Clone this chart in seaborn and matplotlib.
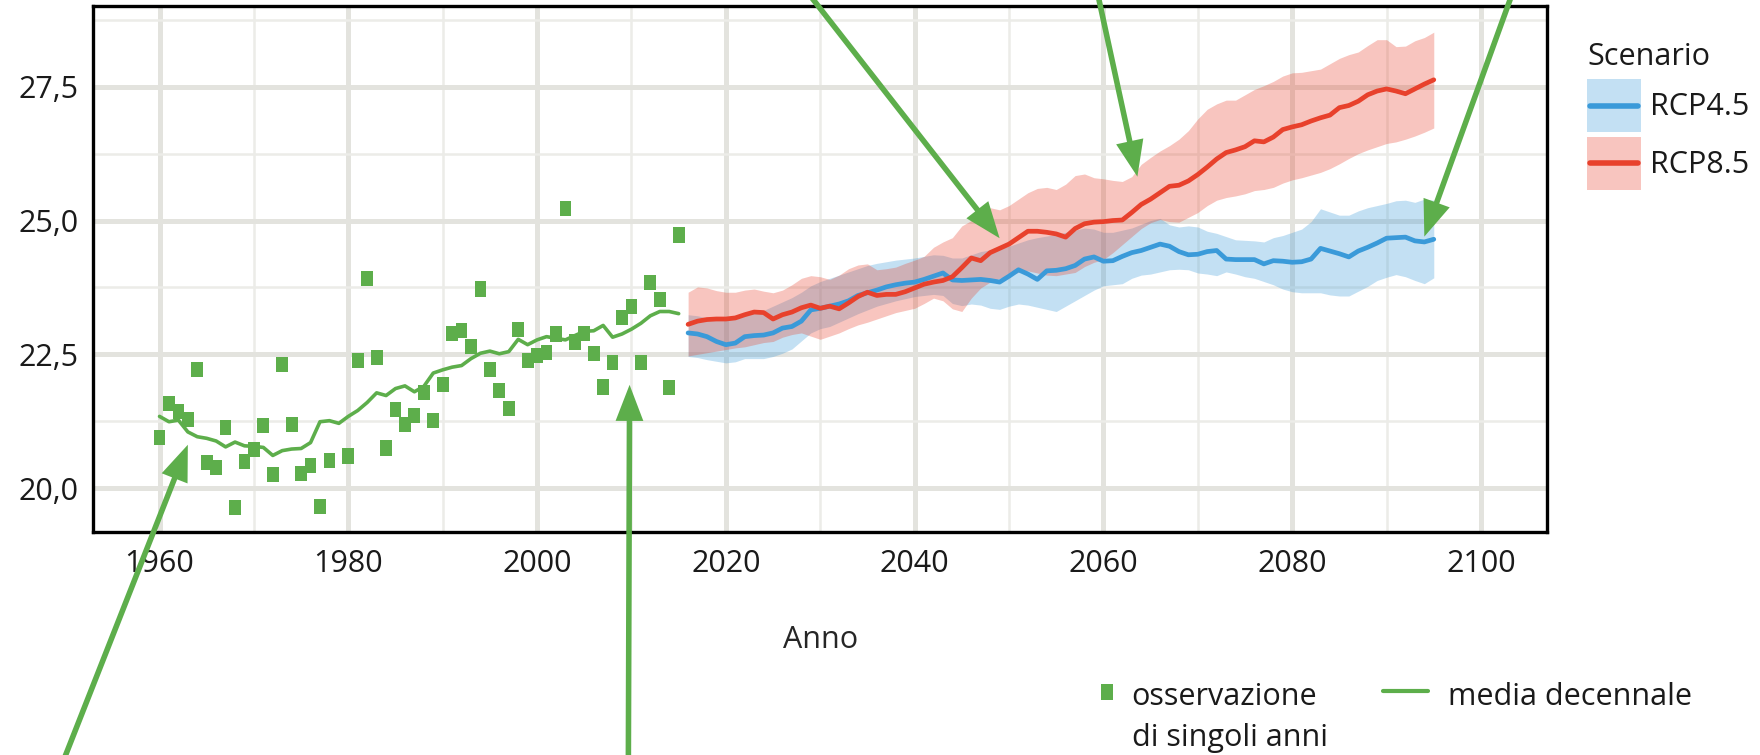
import numpy as np
import pandas as pd
import matplotlib
matplotlib.use("Agg")
import matplotlib.pyplot as plt
import seaborn as sns
from matplotlib.lines import Line2D
from matplotlib.patches import Patch
from matplotlib.markers import MarkerStyle
from matplotlib.ticker import MultipleLocator, FuncFormatter
from matplotlib.legend_handler import HandlerTuple, HandlerLine2D

# ---------------- data ----------------
obs_years = list(range(1960, 1979)) + list(range(1980, 2016))
obs_values = [20.94, 21.58, 21.43, 21.29, 22.22, 20.47, 20.38, 21.13, 19.64, 20.49,
              20.72, 21.17, 20.25, 22.31, 21.18, 20.27, 20.42, 19.65, 20.52,
              20.60, 22.39, 23.92, 22.44, 20.75, 21.47, 21.19, 21.36, 21.79, 21.26,
              21.93, 22.89, 22.94, 22.64, 23.72, 22.22, 21.82, 21.48, 22.97, 22.39,
              22.47, 22.53, 22.88, 25.22, 22.73, 22.89, 22.51, 21.89, 22.35, 23.18,
              23.40, 22.35, 23.85, 23.52, 21.88, 24.73]

dec_years = list(range(1960, 2016))
dec_values = [21.34, 21.24, 21.27, 21.05, 20.96, 20.93, 20.88, 20.77, 20.86, 20.79,
              20.78, 20.76, 20.61, 20.70, 20.73, 20.74, 20.85, 21.24, 21.26, 21.21,
              21.34, 21.45, 21.60, 21.78, 21.73, 21.86, 21.91, 21.80, 21.90, 22.15,
              22.21, 22.26, 22.29, 22.42, 22.52, 22.56, 22.51, 22.55, 22.78, 22.68,
              22.77, 22.83, 22.80, 22.77, 22.85, 22.93, 22.94, 23.04, 22.82, 22.88,
              22.97, 23.08, 23.22, 23.30, 23.30, 23.26]

scen_years = list(range(2016, 2096))

rcp85_mean = [23.06, 23.12, 23.15, 23.16, 23.16, 23.18, 23.24, 23.29, 23.28, 23.16,
              23.24, 23.29, 23.37, 23.42, 23.36, 23.40, 23.35, 23.46, 23.58, 23.66,
              23.60, 23.62, 23.62, 23.67, 23.74, 23.81, 23.85, 23.88, 23.95, 24.12,
              24.30, 24.25, 24.40, 24.48, 24.56, 24.68, 24.80, 24.80, 24.78, 24.75,
              24.69, 24.85, 24.94, 24.97, 24.98, 25.00, 25.01, 25.15, 25.30, 25.40,
              25.52, 25.64, 25.66, 25.74, 25.86, 26.00, 26.15, 26.27, 26.32, 26.38,
              26.49, 26.47, 26.56, 26.70, 26.75, 26.79, 26.86, 26.92, 26.97, 27.11,
              27.15, 27.23, 27.35, 27.42, 27.46, 27.42, 27.37, 27.46, 27.55, 27.63]
rcp85_high = [23.66, 23.76, 23.74, 23.69, 23.66, 23.66, 23.70, 23.72, 23.68, 23.65,
              23.70, 23.80, 23.92, 23.97, 23.95, 23.90, 23.98, 24.10, 24.17, 24.19,
              24.08, 24.10, 24.13, 24.20, 24.26, 24.33, 24.50, 24.60, 24.68, 24.90,
              25.00, 25.10, 25.24, 25.20, 25.28, 25.40, 25.52, 25.60, 25.62, 25.58,
              25.68, 25.84, 25.87, 25.80, 25.78, 25.75, 25.73, 25.82, 26.05, 26.18,
              26.30, 26.40, 26.52, 26.68, 26.90, 27.08, 27.18, 27.25, 27.25, 27.35,
              27.45, 27.52, 27.60, 27.70, 27.76, 27.77, 27.80, 27.83, 27.93, 28.03,
              28.10, 28.15, 28.27, 28.38, 28.38, 28.25, 28.26, 28.36, 28.42, 28.52]
rcp85_low = [22.47, 22.50, 22.53, 22.56, 22.59, 22.62, 22.64, 22.68, 22.72, 22.74,
             22.82, 22.87, 22.90, 22.84, 22.78, 22.84, 22.90, 22.98, 23.05, 23.10,
             23.16, 23.22, 23.28, 23.32, 23.36, 23.45, 23.55, 23.50, 23.35, 23.30,
             23.55, 23.74, 23.85, 23.92, 23.98, 24.03, 24.06, 24.02, 23.98, 23.97,
             24.00, 24.03, 24.14, 24.22, 24.27, 24.40, 24.55, 24.70, 24.85, 24.96,
             25.02, 24.98, 24.97, 25.06, 25.15, 25.28, 25.38, 25.43, 25.46, 25.50,
             25.56, 25.58, 25.62, 25.70, 25.76, 25.80, 25.85, 25.90, 25.97, 26.06,
             26.16, 26.25, 26.32, 26.38, 26.44, 26.47, 26.52, 26.58, 26.65, 26.73]

rcp45_mean = [22.90, 22.88, 22.83, 22.74, 22.68, 22.71, 22.83, 22.85, 22.86, 22.90,
              22.99, 23.02, 23.12, 23.33, 23.36, 23.40, 23.44, 23.50, 23.60, 23.65,
              23.70, 23.76, 23.80, 23.83, 23.85, 23.90, 23.96, 24.02, 23.89, 23.88,
              23.89, 23.90, 23.88, 23.85, 23.96, 24.08, 24.00, 23.90, 24.06, 24.07,
              24.10, 24.16, 24.28, 24.32, 24.24, 24.25, 24.33, 24.40, 24.44, 24.50,
              24.56, 24.52, 24.42, 24.36, 24.37, 24.42, 24.44, 24.28, 24.27, 24.27,
              24.27, 24.19, 24.25, 24.24, 24.22, 24.23, 24.28, 24.48, 24.43, 24.38,
              24.32, 24.43, 24.50, 24.58, 24.67, 24.68, 24.69, 24.62, 24.60, 24.65]
rcp45_high = [23.24, 23.22, 23.18, 23.14, 23.15, 23.20, 23.25, 23.28, 23.32, 23.40,
              23.48, 23.56, 23.66, 23.78, 23.86, 23.92, 23.98, 24.04, 24.10, 24.16,
              24.20, 24.23, 24.26, 24.28, 24.30, 24.33, 24.36, 24.35, 24.30, 24.30,
              24.36, 24.42, 24.45, 24.48, 24.52, 24.58, 24.64, 24.68, 24.71, 24.74,
              24.78, 24.82, 24.86, 24.84, 24.78, 24.78, 24.82, 24.86, 24.93, 25.00,
              25.04, 24.92, 24.88, 24.90, 24.88, 24.80, 24.76, 24.70, 24.64, 24.63,
              24.62, 24.60, 24.68, 24.72, 24.78, 24.84, 24.98, 25.22, 25.16, 25.10,
              25.10, 25.18, 25.24, 25.28, 25.32, 25.37, 25.38, 25.34, 25.40, 25.38]
rcp45_low = [22.46, 22.44, 22.40, 22.37, 22.34, 22.36, 22.42, 22.42, 22.42, 22.46,
             22.52, 22.60, 22.75, 22.90, 22.98, 23.02, 23.10, 23.18, 23.26, 23.33,
             23.40, 23.45, 23.50, 23.54, 23.58, 23.60, 23.62, 23.60, 23.45, 23.41,
             23.44, 23.42, 23.36, 23.34, 23.40, 23.44, 23.42, 23.38, 23.34, 23.30,
             23.40, 23.50, 23.60, 23.70, 23.78, 23.80, 23.82, 23.92, 23.98, 24.00,
             24.04, 24.08, 24.09, 24.08, 24.02, 24.00, 23.97, 24.04, 24.00, 23.95,
             23.92, 23.86, 23.80, 23.72, 23.67, 23.65, 23.65, 23.65, 23.61, 23.59,
             23.59, 23.68, 23.77, 23.88, 23.94, 23.99, 23.95, 23.88, 23.82, 23.93]

scenario_names = ["RCP4.5", "RCP8.5"]
x_ticks = [1960, 1980, 2000, 2020, 2040, 2060, 2080, 2100]
y_ticks = [20.0, 22.5, 25.0, 27.5]

# ---------------- tables ----------------
obs_df = pd.DataFrame({"Anno": obs_years, "Temperatura": obs_values})
dec_df = pd.DataFrame({"Anno": dec_years, "Temperatura": dec_values})
scen_df = pd.concat([
    pd.DataFrame({"Anno": scen_years, "Temperatura": rcp45_mean,
                  "low": rcp45_low, "high": rcp45_high, "Scenario": scenario_names[0]}),
    pd.DataFrame({"Anno": scen_years, "Temperatura": rcp85_mean,
                  "low": rcp85_low, "high": rcp85_high, "Scenario": scenario_names[1]}),
], ignore_index=True)

# ---------------- style ----------------
sns.set_theme(style="white")
plt.rcParams['font.family'] = ['Open Sans', 'DejaVu Sans']
plt.rcParams['text.color'] = '#1a1a1a'

FS = 22
GREEN = '#5DAE4B'
RED = '#E8412C'
BLUE = '#3A9AD9'
palette = {scenario_names[0]: BLUE, scenario_names[1]: RED}

fig = plt.figure(figsize=(17.6, 7.55), dpi=100)
ax = fig.add_axes([0.0531, 0.2954, 0.8259, 0.6967])

# ribbons
for name in scenario_names:
    d = scen_df[scen_df["Scenario"] == name]
    ax.fill_between(d["Anno"], d["low"], d["high"], color=palette[name],
                    alpha=0.3, lw=0, zorder=2)

sns.lineplot(data=scen_df, x="Anno", y="Temperatura", hue="Scenario",
             palette=palette, lw=3.4, legend=False, estimator=None,
             ax=ax, zorder=3)
sns.lineplot(data=dec_df, x="Anno", y="Temperatura", color=GREEN, lw=2.6,
             ax=ax, zorder=3)

rect = MarkerStyle([(-0.39, -0.5), (0.39, -0.5), (0.39, 0.5), (-0.39, 0.5), (-0.39, -0.5)])
sns.scatterplot(data=obs_df, x="Anno", y="Temperatura", marker=rect, s=118,
                color=GREEN, edgecolor='none', linewidth=0, ax=ax, zorder=4)

# axes
ax.set_xlim(1953.0, 2107.0)
ax.set_ylim(19.18, 29.01)
ax.set_xticks(x_ticks)
ax.set_yticks(y_ticks)
ax.xaxis.set_minor_locator(MultipleLocator(10))
ax.yaxis.set_minor_locator(MultipleLocator(1.25))
ax.yaxis.set_major_formatter(FuncFormatter(lambda v, p: f"{v:.1f}".replace('.', ',')))
ax.set_axisbelow(True)
ax.grid(which='major', color='#E3E3DE', lw=3.6)
ax.grid(which='minor', color='#ECECE8', lw=1.8)
ax.tick_params(which='major', direction='out', length=8, width=2.5, color='black',
               labelsize=FS, labelcolor='#1a1a1a')
ax.tick_params(axis='x', which='major', pad=4)
ax.tick_params(axis='y', which='major', pad=2.7)
ax.tick_params(which='minor', length=0)
for s in ax.spines.values():
    s.set_visible(True)
    s.set_color('black')
    s.set_linewidth(2.4)
ax.set_ylabel("")
ax.set_xlabel("Anno", fontsize=FS, va='center')
ax.xaxis.set_label_coords(0.5, -0.205)


# legend line centred in its key box
class CenteredLine(HandlerLine2D):
    def create_artists(self, legend, orig_handle, xdescent, ydescent,
                       width, height, fontsize, trans):
        artists = super().create_artists(legend, orig_handle, xdescent, ydescent,
                                         width, height, fontsize, trans)
        for a in artists:
            a.set_xdata(np.array([-xdescent + 0.05 * width,
                                  width - xdescent - 0.05 * width]))
            a.set_ydata(np.full(2, height / 2 - ydescent))
        return artists


# scenario legend
handles = [(Patch(facecolor=palette[n], alpha=0.3, lw=0),
            Line2D([], [], color=palette[n], lw=4.0)) for n in scenario_names]
leg = ax.legend(handles=handles, labels=scenario_names, title="Scenario",
                loc='upper left', bbox_to_anchor=(0.9017, 0.9446),
                bbox_transform=fig.transFigure, frameon=False,
                fontsize=FS, title_fontsize=FS, handlelength=1.76,
                handleheight=2.29, handletextpad=0.3, labelspacing=0.145,
                borderpad=0, borderaxespad=0, alignment='left',
                handler_map={tuple: HandlerTuple(ndivide=1, pad=0),
                             Line2D: CenteredLine()})
leg._legend_box.sep = 5.5

# bottom legend (observations / decadal mean)
fig.add_artist(Line2D([0.6288], [0.0841], marker=rect, markersize=10.9,
                      color=GREEN, markeredgewidth=0, linestyle='none',
                      transform=fig.transFigure))
fig.text(0.6429, 0.0662, "osservazione", fontsize=FS, va='baseline', ha='left')
fig.text(0.6429, 0.0119, "di singoli anni", fontsize=FS, va='baseline', ha='left')
fig.add_artist(Line2D([0.7858, 0.8114], [0.0854, 0.0854], color=GREEN, lw=3.0,
                      transform=fig.transFigure))
fig.text(0.823, 0.0662, "media decennale", fontsize=FS, va='baseline', ha='left')

# arrows pointing at the series
arrow_tips = [(1963.0, 20.81), (2009.8, 21.93), (2049.0, 24.67),
              (2063.6, 25.82), (2094.0, 24.70)]
arrow_tails = [(55.8, -25), (628.3, -25), (794, 780), (1093.6, 780), (1519, 780)]
for tip, tail in zip(arrow_tips, arrow_tails):
    ax.annotate('', xy=tip, xycoords='data', xytext=tail,
                textcoords='figure pixels', annotation_clip=False,
                arrowprops=dict(facecolor=GREEN, edgecolor='none', width=4,
                                headwidth=20, headlength=26, shrink=0),
                zorder=10)

fig.savefig("out.png", dpi=100)
